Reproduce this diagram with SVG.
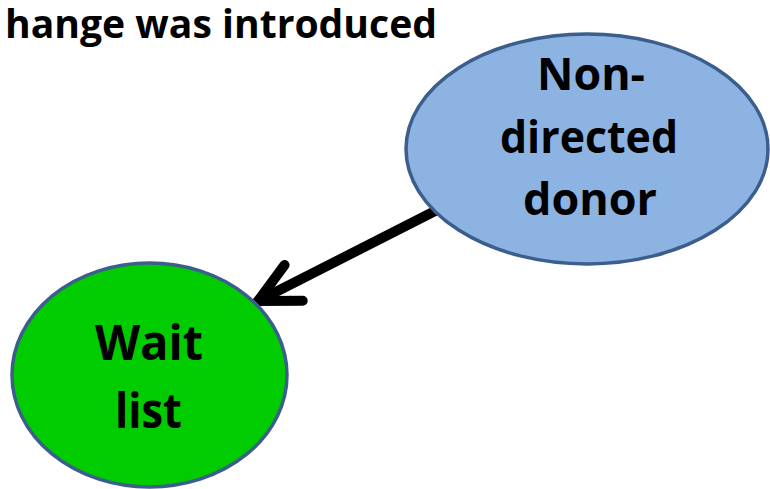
<svg xmlns="http://www.w3.org/2000/svg" width="770" height="489" viewBox="0 0 770 489">
  <style>
    .lbl { font-family: "Open Sans", "Liberation Sans", sans-serif; font-weight: bold; fill: #000; text-anchor: middle; }
    .title { font-family: "Open Sans", "Liberation Sans", sans-serif; font-weight: bold; fill: #000; }
    .node-outline { stroke: #3B5E8C; stroke-width: 3.5; }
    .edge { fill: none; stroke: #000; stroke-width: 10; stroke-linecap: round; stroke-linejoin: round; }
  </style>
  <defs>
    <marker id="chev" markerUnits="userSpaceOnUse" viewBox="-60 -40 80 80" markerWidth="80" markerHeight="80" refX="0" refY="0" orient="auto" overflow="visible">
      <path d="M-40,-20 L0,0 L-40,20" fill="none" stroke="#000" stroke-width="10" stroke-linecap="round" stroke-linejoin="miter" stroke-miterlimit="10"/>
    </marker>
  </defs>
  <rect width="770" height="489" fill="#fff"/>
  <text class="title" x="5" y="38" font-size="40" textLength="432" lengthAdjust="spacingAndGlyphs">hange was introduced</text>
  <g id="connectors">
    <path class="edge" d="M437,210 L258,301" marker-end="url(#chev)"/>
  </g>
  <g id="node-nondirected">
    <ellipse class="node-outline" cx="587" cy="149" rx="181" ry="115" fill="#8DB3E2"/>
    <text class="lbl" x="591" y="90" font-size="45" textLength="108" lengthAdjust="spacingAndGlyphs">Non-</text>
    <text class="lbl" x="589" y="153" font-size="45" textLength="178" lengthAdjust="spacingAndGlyphs">directed</text>
    <text class="lbl" x="590" y="215" font-size="45" textLength="134" lengthAdjust="spacingAndGlyphs">donor</text>
  </g>
  <g id="node-waitlist">
    <ellipse class="node-outline" cx="149.5" cy="375" rx="137.5" ry="112" fill="#00CC00"/>
    <text class="lbl" x="149" y="360" font-size="49" textLength="108" lengthAdjust="spacingAndGlyphs">Wait</text>
    <text class="lbl" x="148.5" y="428" font-size="49" textLength="67" lengthAdjust="spacingAndGlyphs">list</text>
  </g>
</svg>
